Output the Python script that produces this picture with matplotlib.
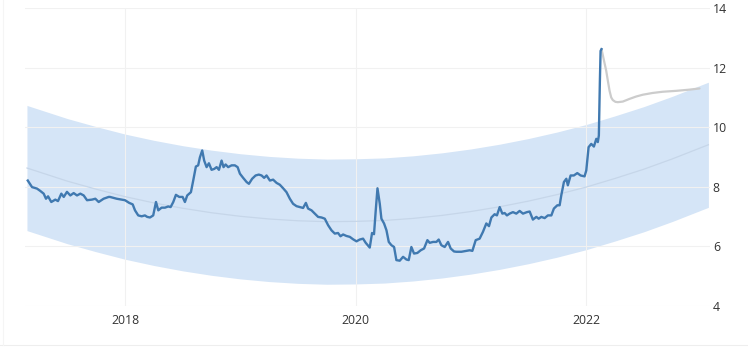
import numpy as np
import matplotlib
matplotlib.use("Agg")
import matplotlib.pyplot as plt
from matplotlib.lines import Line2D

# history (decimal years, value)
hist_t = [2017.157, 2017.194, 2017.237, 2017.266, 2017.295, 2017.315, 2017.333, 2017.361, 2017.396, 2017.419,
          2017.448, 2017.469, 2017.497, 2017.526, 2017.555, 2017.584, 2017.613, 2017.642, 2017.671, 2017.714,
          2017.743, 2017.772, 2017.815, 2017.859, 2017.870, 2017.928, 2017.971, 2018.000, 2018.037, 2018.067,
          2018.087, 2018.115, 2018.145, 2018.173, 2018.193, 2018.217, 2018.245, 2018.269, 2018.289, 2018.318,
          2018.347, 2018.375, 2018.396, 2018.419, 2018.442, 2018.471, 2018.500, 2018.520, 2018.540, 2018.572,
          2018.592, 2018.615, 2018.635, 2018.650, 2018.670, 2018.687, 2018.708, 2018.728, 2018.751, 2018.774,
          2018.795, 2018.815, 2018.838, 2018.855, 2018.873, 2018.895, 2018.925, 2018.953, 2018.977, 2018.997,
          2019.025, 2019.055, 2019.075, 2019.103, 2019.133, 2019.161, 2019.185, 2019.207, 2019.228, 2019.257,
          2019.285, 2019.315, 2019.343, 2019.372, 2019.401, 2019.430, 2019.458, 2019.488, 2019.517, 2019.545,
          2019.569, 2019.588, 2019.618, 2019.647, 2019.675, 2019.705, 2019.733, 2019.762, 2019.791, 2019.820,
          2019.848, 2019.869, 2019.892, 2019.921, 2019.950, 2019.978, 2020.008, 2020.036, 2020.065, 2020.088,
          2020.123, 2020.143, 2020.160, 2020.175, 2020.190, 2020.210, 2020.224, 2020.247, 2020.268, 2020.288,
          2020.311, 2020.334, 2020.354, 2020.383, 2020.412, 2020.441, 2020.461, 2020.484, 2020.507, 2020.536,
          2020.565, 2020.594, 2020.623, 2020.643, 2020.672, 2020.701, 2020.721, 2020.744, 2020.773, 2020.802,
          2020.825, 2020.854, 2020.874, 2020.918, 2020.961, 2020.990, 2021.013, 2021.042, 2021.076, 2021.105,
          2021.134, 2021.157, 2021.178, 2021.206, 2021.226, 2021.250, 2021.273, 2021.293, 2021.313, 2021.336,
          2021.365, 2021.394, 2021.423, 2021.452, 2021.486, 2021.510, 2021.538, 2021.568, 2021.588, 2021.611,
          2021.640, 2021.668, 2021.698, 2021.720, 2021.750, 2021.770, 2021.784, 2021.807, 2021.828, 2021.841,
          2021.865, 2021.893, 2021.923, 2021.952, 2021.986, 2022.001, 2022.021, 2022.044, 2022.067, 2022.088,
          2022.101, 2022.110, 2022.119, 2022.125, 2022.133]
hist_v = [8.21, 7.99, 7.94, 7.86, 7.77, 7.60, 7.68, 7.49, 7.57, 7.52,
          7.77, 7.66, 7.83, 7.71, 7.79, 7.71, 7.77, 7.71, 7.55, 7.57,
          7.60, 7.49, 7.60, 7.66, 7.66, 7.60, 7.57, 7.55, 7.46, 7.41,
          7.21, 7.04, 7.01, 7.04, 6.99, 6.97, 7.04, 7.49, 7.21, 7.30,
          7.30, 7.34, 7.32, 7.49, 7.73, 7.66, 7.66, 7.49, 7.71, 7.82,
          8.21, 8.68, 8.72, 8.99, 9.22, 8.88, 8.66, 8.79, 8.57, 8.60,
          8.66, 8.57, 8.88, 8.66, 8.75, 8.66, 8.72, 8.72, 8.66, 8.44,
          8.30, 8.16, 8.10, 8.27, 8.38, 8.41, 8.38, 8.30, 8.38, 8.21,
          8.24, 8.13, 8.07, 7.95, 7.82, 7.60, 7.43, 7.35, 7.32, 7.29,
          7.46, 7.27, 7.21, 7.10, 6.99, 6.97, 6.93, 6.71, 6.54, 6.43,
          6.45, 6.34, 6.40, 6.35, 6.32, 6.24, 6.17, 6.23, 6.26, 6.12,
          5.96, 6.45, 6.41, 7.21, 7.95, 7.43, 6.93, 6.77, 6.54, 6.15,
          6.04, 5.98, 5.54, 5.52, 5.65, 5.56, 5.54, 5.98, 5.76, 5.78,
          5.87, 5.93, 6.21, 6.12, 6.15, 6.15, 6.23, 6.04, 5.98, 6.15,
          5.93, 5.83, 5.82, 5.82, 5.85, 5.87, 5.85, 6.21, 6.26, 6.49,
          6.77, 6.68, 6.97, 7.08, 7.04, 7.32, 7.10, 7.12, 7.04, 7.10,
          7.15, 7.10, 7.19, 7.10, 7.15, 7.17, 6.90, 6.99, 6.93, 6.99,
          6.95, 7.04, 7.04, 7.27, 7.38, 7.38, 7.71, 8.16, 8.27, 8.05,
          8.38, 8.38, 8.46, 8.38, 8.35, 8.55, 9.33, 9.44, 9.35, 9.61,
          9.50, 9.72, 11.56, 12.56, 12.62]

# forecast
fc_t = [2022.133, 2022.174, 2022.188, 2022.203, 2022.217, 2022.231, 2022.254, 2022.275, 2022.318,
        2022.376, 2022.434, 2022.491, 2022.578, 2022.665, 2022.781, 2022.896, 2022.983]
fc_v = [12.62, 11.89, 11.56, 11.22, 11.00, 10.91, 10.85, 10.84, 10.86,
        10.95, 11.03, 11.09, 11.15, 11.19, 11.22, 11.26, 11.30]

# trend band (quarterly reading)
band_t = [2017.15, 2017.5, 2017.75, 2018.0, 2018.25, 2018.5, 2018.75, 2019.0, 2019.25, 2019.5,
          2019.75, 2020.0, 2020.25, 2020.5, 2020.75, 2021.0, 2021.25, 2021.5, 2021.75, 2022.0,
          2022.25, 2022.5, 2022.75, 2023.0, 2023.06]
band_hi = [10.73, 10.29, 10.02, 9.77, 9.56, 9.38, 9.23, 9.11, 9.02, 8.96,
           8.93, 8.94, 8.97, 9.04, 9.14, 9.27, 9.43, 9.62, 9.84, 10.09,
           10.38, 10.69, 11.04, 11.42, 11.51]
band_mid = [8.63, 8.19, 7.92, 7.67, 7.46, 7.28, 7.13, 7.01, 6.92, 6.86,
            6.83, 6.84, 6.87, 6.94, 7.04, 7.17, 7.33, 7.52, 7.74, 7.99,
            8.28, 8.59, 8.94, 9.32, 9.41]
band_lo = [6.53, 6.09, 5.82, 5.57, 5.36, 5.18, 5.03, 4.91, 4.82, 4.76,
           4.73, 4.74, 4.77, 4.84, 4.94, 5.07, 5.23, 5.42, 5.64, 5.89,
           6.18, 6.49, 6.84, 7.22, 7.31]

x_ticks = [2018, 2020, 2022]
x_labels = ["2018", "2020", "2022"]
y_ticks = [4, 6, 8, 10, 12, 14]

plt.rcParams["font.family"] = ["Open Sans", "DejaVu Sans"]
fig = plt.figure(figsize=(7.48, 3.63), dpi=100)
ax = fig.add_axes([25/748, 57/363, 685/748, 298/363])

ax.fill_between(band_t, band_lo, band_hi, color="#d5e5f7", lw=0, zorder=1)
ax.plot(band_t, band_mid, color="#c6d6e9", lw=0.9, zorder=2)
ax.plot(fc_t, fc_v, color="#cccccc", lw=1.6, zorder=3, solid_capstyle="round")
ax.plot(hist_t, hist_v, color="#4079b0", lw=1.7, zorder=4, solid_joinstyle="round")

ax.set_xlim(2017.133, 2023.074)
ax.set_ylim(4, 14)
ax.set_xticks(x_ticks); ax.set_xticklabels(x_labels)
ax.set_yticks(y_ticks)
ax.yaxis.tick_right()
ax.tick_params(axis="both", length=0, labelsize=8.8, labelcolor="#333333")
ax.tick_params(axis="x", pad=6)
ax.tick_params(axis="y", pad=2)
for lab in ax.get_yticklabels():
    lab.set_horizontalalignment("left")
ax.grid(True, color="#f1f1f1", lw=0.8, zorder=0)
for s in ax.spines.values():
    s.set_visible(False)

# faint frame lines
fig.add_artist(Line2D([0, 1], [1 - 345/363]*2, color="#eeeeee", lw=0.8))
fig.add_artist(Line2D([3/748]*2, [1 - 345/363, 1], color="#f5f5f5", lw=0.8))

fig.savefig("out.png", dpi=100)
